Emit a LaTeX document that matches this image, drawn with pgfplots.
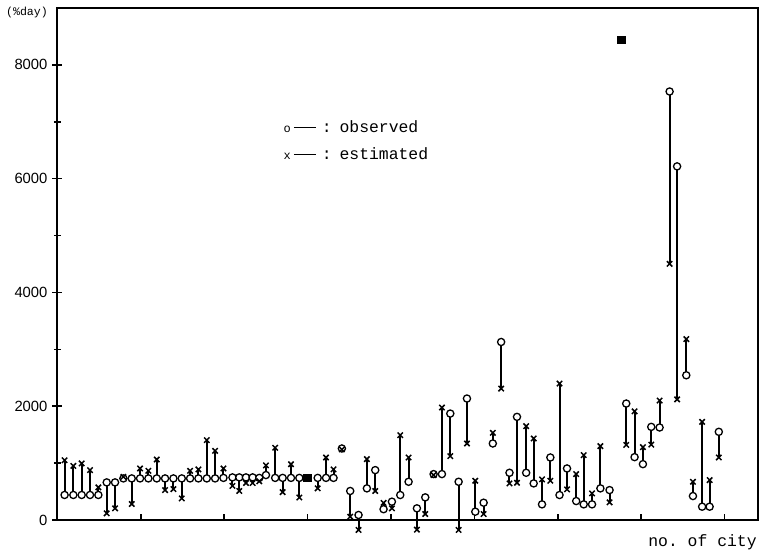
\documentclass[border=0pt]{standalone}
\usepackage{pgfplots}
\pgfplotsset{compat=1.18}
\usepackage{pgfplotstable}
\usepackage{fontspec}
\setmainfont{Liberation Sans}
\setmonofont{Liberation Mono}

% city position, observed, estimated
\pgfplotstableread{
x     obs   est
0.85  440   1050
1.9   440   950
2.9   440   995
3.9   440   877
4.9   440   573
5.9   661   117
6.9   661   205
7.9   731   760
8.9   731   281
9.9   731   906
10.9  731   865
11.9  731   1064
12.9  731   526
13.9  731   544
14.9  731   380
15.9  731   865
16.9  731   889
17.9  731   1404
18.9  731   1216
19.9  740   906
20.98 749   600
21.8  749   510
22.6  749   650
23.4  749   650
24.2  740   680
25.0  790   960
26.1  740   1270
27.0  740   490
28.0  740   980
29.0  740   395
31.2  740   556
32.2  740   1099
33.1  740   890
34.1  1257  1240
35.1  510   58
36.1  88    -175
37.1  556   1070
38.1  877   510
39.1  190   300
40.1  322   205
41.1  439   1491
42.1  672   1099
43.1  205   -170
44.1  398   105
45.1  807   790
46.1  807   1977
47.1  1871  1123
48.1  672   -175
49.1  2135  1345
50.1  146   690
51.1  304   105
52.2  1345  1532
53.2  3129  2310
54.2  830   643
55.1  1813  655
56.2  830   1649
57.1  643   1433
58.1  275   714
59.1  1099  690
60.2  439   2398
61.1  906   538
62.2  333   807
63.1  275   1140
64.1  275   468
65.1  556   1298
66.2  526   310
68.2  2047  1320
69.2  1105  1910
70.2  982   1280
71.2  1637  1325
72.2  1626  2100
73.4  7532  4503
74.3  6216  2120
75.4  2544  3180
76.2  421   672
77.3  234   1725
78.2  234   702
79.3  1550  1099
}\cities

% cities where both values coincide (printed as a filled square)
\pgfplotstableread{
x     val
30.0  740
67.6  8440
}\same

\begin{document}
\begin{tikzpicture}
\useasboundingbox (-28.75pt,-15.5pt) rectangle (351.25pt,260pt);
\begin{axis}[
    at={(0,0)}, anchor=south west,
    scale only axis,
    width=350.25pt, height=256pt,
    xmin=0, xmax=84, ymin=0, ymax=9000,
    clip=false,
    axis line style={line width=1pt},
    xtick=\empty,
    extra x ticks={10,20,...,80}, extra x tick labels={},
    extra x tick style={major tick length=2.8pt, tick align=inside},
    ytick={0,2000,4000,6000,8000},
    minor ytick={1000,3000,5000,7000},
    tick pos=left,
    ytick align=center,
    major tick length=5pt, minor tick length=3.5pt,
    every tick/.style={line width=0.8pt, black},
    /pgf/number format/1000 sep={},
    /pgf/number format/assume math mode=true,
    yticklabel style={font=\fontsize{7.4}{9}\selectfont, xshift=1pt},
]
\addplot[only marks, mark=*, mark size=1.8pt,
    mark options={fill=white, draw=black, line width=0.65pt},
    error bars/.cd, y dir=both, y explicit, error mark=none,
    error bar style={line width=1pt, black}]
  table[x=x, y=obs,
    y error plus expr={max(\thisrow{est}-\thisrow{obs},0)},
    y error minus expr={max(\thisrow{obs}-\thisrow{est},0)}] {\cities};
\addplot[only marks, mark=x, mark size=1.9pt,
    mark options={line width=0.75pt, black}]
  table[x=x, y=est] {\cities};
\addplot[only marks, mark=square*, mark size=1.9pt, black]
  table[x=x, y=val] {\same};
\end{axis}
\node[font=\ttfamily\fontsize{5.8}{7}\selectfont] at (-15.25pt,253.5pt) {(\%day)};
\node[font=\ttfamily\fontsize{8.2}{10}\selectfont] at (322.5pt,-11pt) {no. of city};
\node[anchor=west, font=\ttfamily\fontsize{8.2}{10}\selectfont] at (109.5pt,196.5pt)
  {{\fontsize{6}{7}\selectfont o}\hspace{1.5pt}\rule[0.6ex]{11pt}{0.5pt}\hspace{3pt}:\hspace{4pt}observed};
\node[anchor=west, font=\ttfamily\fontsize{8.2}{10}\selectfont] at (109.5pt,183pt)
  {{\fontsize{6}{7}\selectfont x}\hspace{1.5pt}\rule[0.6ex]{11pt}{0.5pt}\hspace{3pt}:\hspace{4pt}estimated};
\end{tikzpicture}
\end{document}
